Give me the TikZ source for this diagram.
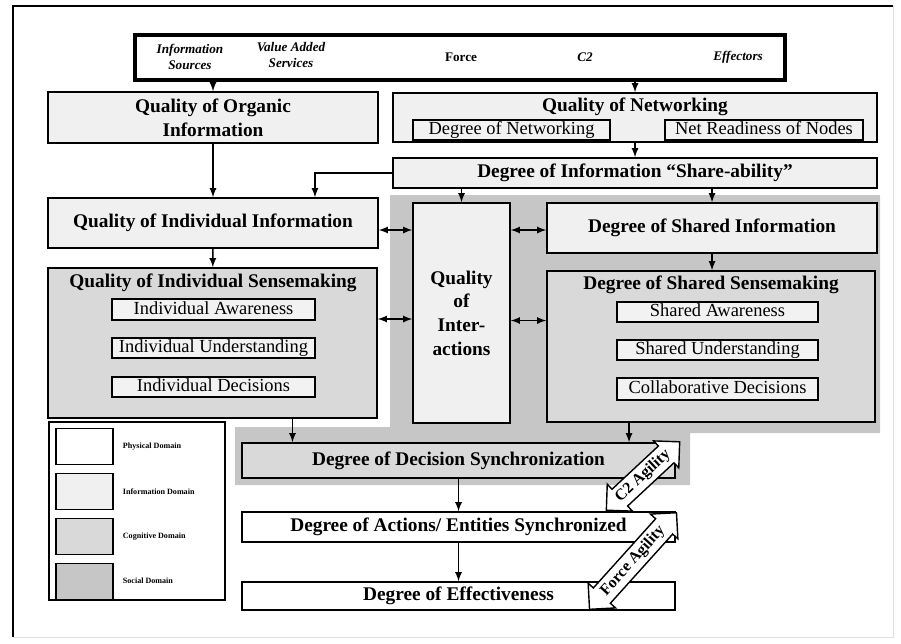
\documentclass[tikz,border=0pt]{standalone}
\usepackage{fontspec}
\setmainfont{Liberation Serif}
\usetikzlibrary{arrows,shapes,positioning,fit,calc}

\begin{document}
\begin{tikzpicture}[x=0.02cm,y=-0.02cm,>=latex,
	infobox/.style={draw,thick,fill=gray!12,inner sep=0pt},
	cogbox/.style={draw,thick,fill=gray!30,inner sep=0pt},
	physbox/.style={draw,thick,fill=white,inner sep=0pt},
	subbox/.style={draw,thick,fill=gray!10,inner sep=0pt},
	subtext/.style={font=\fontsize{10.5}{12}\selectfont,text height=7.5pt,text depth=2pt},
	main/.style={font=\fontsize{11}{13.5}\selectfont\bfseries,align=center},
	toplabel/.style={font=\fontsize{7.5}{9.5}\selectfont\bfseries\itshape,align=center},
	legtext/.style={font=\fontsize{4.6}{6}\selectfont\bfseries,anchor=west},
	swatch/.style={minimum width=1.14cm,minimum height=0.72cm,inner sep=0pt},
	link/.style={->,thick},
	both/.style={<->,thick},
	agility/.style={double arrow,draw,thick,fill=white,double arrow head extend=0.14cm,
		inner sep=2pt,font=\fontsize{9}{10}\selectfont\bfseries}]
	\useasboundingbox (0,0) rectangle (901,643);
	
	% Frame
	\draw[thick] (13,637) -- (13,6) -- (893,6);
	\draw[gray!25] (893,6) -- (893,637) -- (13,637);
	
	% Social domain background
	\fill[gray!45] (390,195) -- (880,195) -- (880,433) -- (690,433) -- (690,485)
		-- (235,485) -- (235,427) -- (390,427) -- cycle;
	
	% Top bar
	\node[physbox,line width=2pt,fit={(135,35) (785,80)}] (topbar) {};
	\node[toplabel] (infosrc) at (190,57) {Information\\Sources};
	\node[toplabel] (valadd) at (291,55) {Value Added\\Services};
	\node[toplabel,font=\fontsize{7.5}{9.5}\selectfont\bfseries] (force) at (461,57) {Force};
	\node[toplabel] (ctwo) at (585,57) {C2};
	\node[toplabel] (effect) at (738,57) {Effectors};
	
	% Information domain
	\node[infobox,fit={(48,92) (378,143)},label={[main]center:{Quality of Organic\\Information}}] (qoi) {};
	\node[infobox,fit={(393,93) (877,142)}] (qon) {};
	\node[main] (qontitle) at (635,107) {Quality of Networking};
	\node[subbox,fit={(413,120) (610,140)},label={[subtext]center:Degree of Networking}] (don) {};
	\node[subbox,fit={(665,120) (863,140)},label={[subtext]center:Net Readiness of Nodes}] (nrn) {};
	\node[infobox,fit={(393,158) (877,188)},label={[main]center:Degree of Information ``Share-ability''}] (share) {};
	\node[infobox,fit={(48,198) (378,248)},label={[main]center:Quality of Individual Information}] (qii) {};
	\node[infobox,fit={(413,203) (510,423)},label={[main]center:{Quality\\of\\Inter-\\actions}}] (qoint) {};
	\node[infobox,fit={(547,203) (877,253)},label={[main]center:Degree of Shared Information}] (dsi) {};
	
	% Cognitive domain
	\node[cogbox,fit={(48,268) (377,418)}] (qis) {};
	\node[main] (qistitle) at (213,283) {Quality of Individual Sensemaking};
	\node[subbox,fit={(112,299) (315,320)},label={[subtext]center:Individual Awareness}] (ia) {};
	\node[subbox,fit={(112,338) (315,358)},label={[subtext]center:Individual Understanding}] (iu) {};
	\node[subbox,fit={(112,377) (315,397)},label={[subtext]center:Individual Decisions}] (id) {};
	
	\node[cogbox,fit={(547,271) (875,422)}] (dss) {};
	\node[main] (dsstitle) at (711,285) {Degree of Shared Sensemaking};
	\node[subbox,fit={(617,302) (818,322)},label={[subtext]center:Shared Awareness}] (sa) {};
	\node[subbox,fit={(617,340) (818,360)},label={[subtext]center:Shared Understanding}] (su) {};
	\node[subbox,fit={(617,378) (818,400)},label={[subtext]center:Collaborative Decisions}] (cd) {};
	
	\node[cogbox,fit={(242,443) (675,478)},label={[main]center:Degree of Decision Synchronization}] (dds) {};
	
	% Physical domain
	\node[physbox,fit={(242,512) (675,542)},label={[main]center:Degree of Actions/ Entities Synchronized}] (das) {};
	\node[physbox,fit={(242,582) (675,610)},label={[main]center:Degree of Effectiveness}] (doe) {};
	
	% Connectors
	\draw[link] (topbar.south -| qoi.north) -- (qoi.north);
	\draw[link] (topbar.south -| qon.north) -- (qon.north);
	\draw[link] (qoi) -- (qii);
	\draw[link] (qon) -- (share);
	\draw[link] (share.west) -| ([xshift=2.04cm]qii.north);
	\draw[link] (share.south -| qoint.north) -- (qoint.north);
	\draw[link] (share.south -| dsi.north) -- (dsi.north);
	\draw[both] ($(qii.east)+(0,7)$) -- ($(qii.east -| qoint.west)+(0,7)$);
	\draw[both] ($(dsi.west -| qoint.east)+(0,2)$) -- ($(dsi.west)+(0,2)$);
	\draw[link] (qii) -- (qis);
	\draw[link] (dsi.south) -- (dsi.south |- dss.north);
	\draw[both] ($(qis.east)+(0,-24)$) -- ($(qis.east -| qoint.west)+(0,-24)$);
	\draw[both] ($(dss.west -| qoint.east)+(0,-26)$) -- ($(dss.west)+(0,-26)$);
	\draw[link] ([xshift=1.6cm]qis.south) -- ([xshift=1.6cm]qis.south |- dds.north);
	\draw[link] ([xshift=-1.64cm]dss.south) -- ([xshift=-1.64cm]dss.south |- dds.north);
	\draw[link] (dds) -- (das);
	\draw[link] (das) -- (doe);
	
	% Agility arrows
	\node[agility,rotate=43,minimum height=2.0cm,minimum width=0.66cm] (c2agility) at (643,476) {C2 Agility};
	\node[agility,rotate=48,minimum height=2.6cm,minimum width=0.66cm] (forceagility) at (633,561) {Force Agility};
	
	% Legend
	\node[draw,thick,fill=white,fit={(49,422) (225,600)},inner sep=0pt] (legend) {};
	\node[physbox,swatch] (sw1) at (84.5,446.5) {};
	\node[infobox,swatch,below=0.15cm of sw1] (sw2) {};
	\node[cogbox,swatch,below=0.15cm of sw2] (sw3) {};
	\node[draw,thick,fill=gray!45,swatch,below=0.15cm of sw3] (sw4) {};
	\node[legtext,right=0.06cm of sw1] (leg1) {Physical Domain};
	\node[legtext,right=0.06cm of sw2] (leg2) {Information Domain};
	\node[legtext,right=0.06cm of sw3] (leg3) {Cognitive Domain};
	\node[legtext,right=0.06cm of sw4] (leg4) {Social Domain};
\end{tikzpicture}
\end{document}
